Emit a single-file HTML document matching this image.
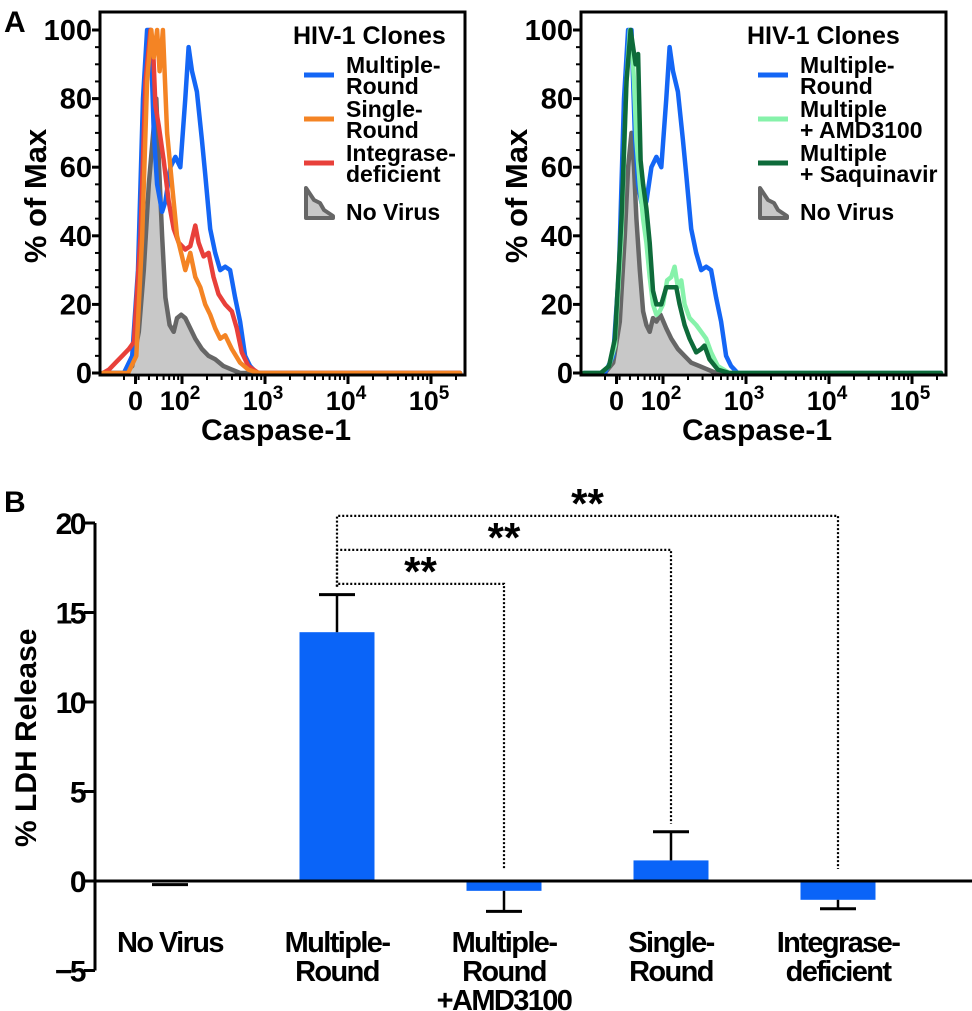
<!DOCTYPE html>
<html><head><meta charset="utf-8"><style>
html,body{margin:0;padding:0;background:#fff;}
svg{display:block;font-family:"Liberation Sans",sans-serif;font-weight:bold;}
</style></head><body>
<svg id="fig" width="972" height="1011" viewBox="0 0 972 1011" xmlns="http://www.w3.org/2000/svg">
<text x="4" y="32" font-size="30">A</text>
<text x="4" y="512" font-size="30">B</text>
<g id="pA1"></g>
<g id="pA2"></g>
<g id="pB"></g>
</svg>
<script>
// ---- Panel A data (u = log-ish channel position: 2 => 10^2) ----
const mrU = [1.05,1.30,1.40,1.47,1.53,1.58,1.62,1.66,1.70,1.76,1.80,1.86,1.92,1.98,2.04,2.08,2.12,2.18,2.24,2.28,2.34,2.40,2.46,2.52,2.58,2.64,2.70,2.76,2.82,2.90,3.0,5.35];
const mrY = [0,0,5,30,80,100,100,70,55,47,50,60,63,60,80,95,88,82,68,58,42,35,30,31,30,22,15,5,2,0,0,0];
const srU = [1.05,1.35,1.45,1.52,1.58,1.63,1.66,1.70,1.73,1.77,1.82,1.88,1.94,2.00,2.04,2.10,2.16,2.22,2.28,2.34,2.40,2.46,2.52,2.60,2.70,2.80,2.92,5.35];
const srY = [0,0,5,40,85,100,92,100,88,100,70,55,40,34,30,35,28,25,20,17,13,10,11,7,3,1,0,0];
const idU = [1.05,1.12,1.20,1.28,1.36,1.42,1.50,1.56,1.62,1.65,1.68,1.72,1.78,1.84,1.90,1.96,2.04,2.10,2.16,2.20,2.26,2.32,2.38,2.44,2.52,2.60,2.66,2.72,2.80,2.92,5.35];
const idY = [0,1,3,5,7,9,40,85,100,96,78,72,62,50,42,38,36,37,43,38,34,35,28,23,20,18,13,6,2,0,0];
const nvU = [1.05,1.30,1.40,1.48,1.54,1.60,1.66,1.69,1.72,1.76,1.80,1.85,1.90,1.94,1.99,2.04,2.10,2.16,2.24,2.32,2.40,2.50,2.60,2.70,5.35];
const nvY = [0,0,2,12,30,55,72,80,62,40,22,14,12,16,17,16,13,10,7,5,4,2,1,0,0];
const amdU = [1.05,1.25,1.35,1.42,1.50,1.56,1.60,1.62,1.65,1.68,1.72,1.76,1.80,1.84,1.88,1.92,1.96,2.00,2.05,2.10,2.14,2.18,2.22,2.26,2.32,2.40,2.46,2.52,2.58,2.66,2.80,5.35];
const amdY = [0,0,2,8,40,85,100,98,85,68,55,45,38,28,20,17,18,20,27,28,31,25,27,20,16,14,12,10,6,2,0,0];
const sqvU = [1.05,1.25,1.35,1.42,1.50,1.56,1.61,1.64,1.67,1.70,1.73,1.76,1.80,1.84,1.88,1.92,1.98,2.04,2.10,2.16,2.20,2.26,2.32,2.40,2.46,2.50,2.56,2.66,2.80,5.35];
const sqvY = [0,0,2,10,45,85,100,95,90,93,62,55,48,38,24,20,20,25,25,25,20,14,10,6,7,8,4,1,0,0];
const nv2U = [1.05,1.30,1.40,1.48,1.54,1.58,1.62,1.65,1.68,1.72,1.76,1.80,1.84,1.88,1.92,1.97,2.04,2.10,2.18,2.26,2.34,2.44,2.54,2.64,5.35];
const nv2Y = [0,0,3,15,40,60,70,60,45,30,18,14,12,16,15,17,13,10,7,5,3,2,1,0,0];
const yTicksA = [0,20,40,60,80,100];
const xTickU = [1.44,2,3,4,5];
const xTickLab = ["0","2","3","4","5"];

// ---- Panel B data ----
const cats = [["No Virus"],["Multiple-","Round"],["Multiple-","Round","+AMD3100"],["Single-","Round"],["Integrase-","deficient"]];
const ldh = [-0.2,13.9,-0.55,1.15,-1.05];
const ldhErr = [0,16.0,-1.7,2.75,-1.55];
const yTicksB = [-5,0,5,10,15,20];
const brackets = [[1,2,16.6],[1,3,18.5],[1,4,20.4]];

const NS="http://www.w3.org/2000/svg";
function mk(tag,attrs,parent){const e=document.createElementNS(NS,tag);for(const k in attrs)e.setAttribute(k,attrs[k]);parent.appendChild(e);return e;}

function histPanel(g,ox,lx,series,legend){
  const L=ox+100,R=ox+465,T=12,B=375;
  const xs=u=>ox+182+(u-2)*83;
  const ys=v=>373-v*3.43;
  series.forEach(s=>{
    let d=s.u.map((u,i)=>(i?'L':'M')+xs(u).toFixed(1)+','+ys(s.y[i]).toFixed(1)).join('');
    if(s.fill){
      const f=mk('path',{d:d+'L'+xs(s.u[s.u.length-1])+','+ys(0)+'L'+xs(s.u[0])+','+ys(0)+'Z',fill:'#c8c8c8',stroke:'none'},g);
      
      
    }
    const p=mk('path',{d:d,fill:'none',stroke:s.c,'stroke-width':4.5,'stroke-linejoin':'round','stroke-linecap':'round'},g);
    
    
  });
  const fr=mk('rect',{x:L,y:T,width:R-L,height:B-T,fill:'none',stroke:'#000','stroke-width':3},g);
  
  
  for(let v=0;v<=100;v+=5){
    const major=v%20===0;
    const t=mk('line',{x1:L-(major?8:5),x2:L,y1:ys(v),y2:ys(v),stroke:'#000','stroke-width':major?3:2},g);
    
    
  }
  yTicksA.forEach(v=>{
    const t=mk('text',{x:L-8,y:ys(v)+10,'font-size':29,'text-anchor':'end'},g);t.textContent=v;
    
    
  });
  for(let d=1;d<=5;d++){for(let m=2;m<=9;m++){const u=d+Math.log10(m);if(xs(u)>L&&xs(u)<R){
    const t=mk('line',{x1:xs(u),x2:xs(u),y1:B,y2:B+5,stroke:'#000','stroke-width':2},g);
    
    }}}
  xTickU.forEach((u,i)=>{
    const t=mk('line',{x1:xs(u),x2:xs(u),y1:B,y2:B+9,stroke:'#000','stroke-width':3},g);
    
    
    const tx=mk('text',{x:i===0?xs(u):xs(u)-2,y:410,'font-size':27,'text-anchor':'middle'},g);
    
    
    if(i===0){tx.textContent='0';}
    else{tx.textContent='10';const s=mk('tspan',{'font-size':19,dy:-11},tx);s.textContent=xTickLab[i];}
  });
  const xt=mk('text',{x:ox+276,y:440,'font-size':30,'text-anchor':'middle'},g);xt.textContent='Caspase-1';
  
  
  const yt=mk('text',{x:0,y:0,'font-size':31,'text-anchor':'middle',transform:`translate(${ox+46},196) rotate(-90)`},g);yt.textContent='% of Max';
  
  
  const lt=mk('text',{x:lx-8,y:44,'font-size':25},g);lt.textContent='HIV-1 Clones';
  
  
  legend.forEach((e,i)=>{
    const by=73+i*44;
    const sw=mk('line',{x1:lx+3,x2:lx+33,y1:by+2,y2:by+2,stroke:e.c,'stroke-width':5},g);
    
    
    e.t.forEach((s,j)=>{const t=mk('text',{x:lx+45,y:by+j*21,'font-size':23},g);t.textContent=s;
      
      });
  });
  const ic=mk('path',{d:`M${lx+5},218 L${lx+5},188 L${lx+13},200 L${lx+19},203 L${lx+23},210 L${lx+32},216 L${lx+32},218 Z`,fill:'#c8c8c8',stroke:'#666','stroke-width':4,'stroke-linejoin':'round'},g);
  
  
  const nt=mk('text',{x:lx+45,y:220,'font-size':23},g);nt.textContent='No Virus';
  
  
}
histPanel(document.getElementById('pA1'),0,301,[
  {u:nvU,y:nvY,c:'#666',fill:true,name:'no-virus'},
  {u:mrU,y:mrY,c:'#1466f5',name:'multiple-round'},
  {u:idU,y:idY,c:'#e8403a',name:'integrase-deficient'},
  {u:srU,y:srY,c:'#f48424',name:'single-round'}
],[{c:'#1466f5',t:['Multiple-','Round']},{c:'#f48424',t:['Single-','Round']},{c:'#e8403a',t:['Integrase-','deficient']}]);
histPanel(document.getElementById('pA2'),481,755,[
  {u:nv2U,y:nv2Y,c:'#666',fill:true,name:'no-virus'},
  {u:mrU,y:mrY,c:'#1466f5',name:'multiple-round'},
  {u:amdU,y:amdY,c:'#86f2aa',name:'multiple-amd3100'},
  {u:sqvU,y:sqvY,c:'#0e6b3a',name:'multiple-saquinavir'}
],[{c:'#1466f5',t:['Multiple-','Round']},{c:'#86f2aa',t:['Multiple','+ AMD3100']},{c:'#0e6b3a',t:['Multiple','+ Saquinavir']}]);

// ---- Panel B ----
(function(){
  const g=document.getElementById('pB');
  const ys=v=>881-v*17.9;
  const xc=i=>170+i*167;
  const bw=75;
  const ax=mk('line',{x1:95,x2:95,y1:ys(20),y2:ys(-5),stroke:'#000','stroke-width':3},g);
  
  
  yTicksB.forEach(v=>{
    const t=mk('line',{x1:84,x2:95,y1:ys(v),y2:ys(v),stroke:'#000','stroke-width':3},g);
    
    
    const tx=mk('text',{x:84,y:ys(v)+11,'font-size':30,'text-anchor':'end','letter-spacing':-2.5},g);
    tx.textContent=v<0?'\u2212'+(-v):v;
    
    
  });
  const yt=mk('text',{x:0,y:0,'font-size':30,'text-anchor':'middle',transform:`translate(36,${ys(8)}) rotate(-90)`},g);yt.textContent='% LDH Release';
  
  
  ldh.forEach((v,i)=>{
    const top=Math.min(ys(v),ys(0)),h=Math.abs(ys(v)-ys(0));
    if(i>0){const r=mk('rect',{x:xc(i)-bw/2,y:top,width:bw,height:Math.max(h,2),fill:'#0a64f8'},g);
      
      }
    const e=ldhErr[i];
    if(i===0){
      const l=mk('line',{x1:xc(i)-18,x2:xc(i)+18,y1:ys(v),y2:ys(v),stroke:'#000','stroke-width':3},g);
      
      
    } else {
      const v1=mk('line',{x1:xc(i),x2:xc(i),y1:ys(v),y2:ys(e),stroke:'#000','stroke-width':2.5},g);
      
      
      const c=mk('line',{x1:xc(i)-18,x2:xc(i)+18,y1:ys(e),y2:ys(e),stroke:'#000','stroke-width':3},g);
      
      
    }
    cats[i].forEach((s,j)=>{const t=mk('text',{x:xc(i),y:952+j*29,'font-size':29,'text-anchor':'middle','letter-spacing':-1.6},g);t.textContent=s;
      
      });
  });
  const z=mk('line',{x1:95,x2:972,y1:ys(0),y2:ys(0),stroke:'#000','stroke-width':3},g);
  
  
  brackets.forEach(b=>{
    const x1=xc(b[0]),x2=xc(b[1]),y=ys(b[2]);
    const endTop=b[1]===3?ys(ldhErr[3])-8:ys(0)-12;
    const p=mk('path',{d:`M${x1},${ys(ldhErr[1])-8}L${x1},${y}L${x2},${y}L${x2},${endTop}`,fill:'none',stroke:'#000','stroke-width':2.2,'stroke-dasharray':'2 2'},g);
    
    
    const s=mk('text',{x:(x1+x2)/2,y:y+2,'font-size':42,'text-anchor':'middle'},g);s.textContent='**';
    
    
  });
})();
</script>
</body></html>
